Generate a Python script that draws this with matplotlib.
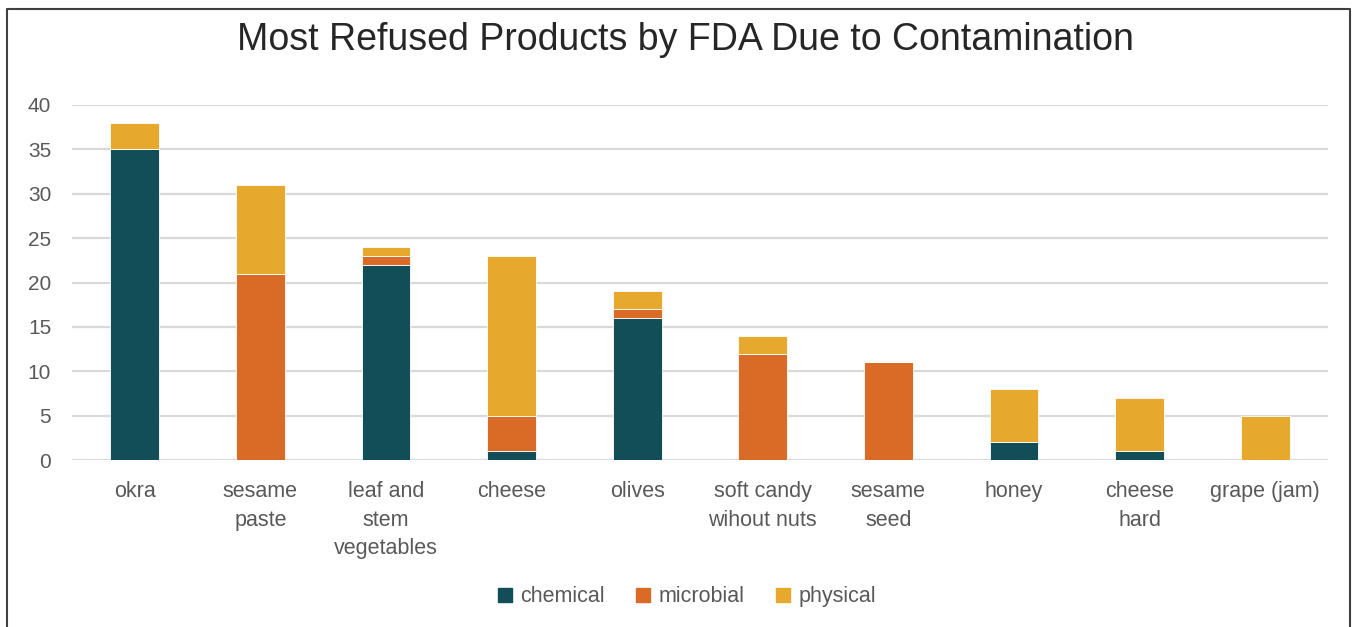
import matplotlib.pyplot as plt
import numpy as np
from matplotlib.lines import Line2D

plt.rcParams['font.family'] = ['Liberation Sans', 'DejaVu Sans']

# data
products = ["okra", "sesame\npaste", "leaf and\nstem\nvegetables", "cheese", "olives",
            "soft candy\nwihout nuts", "sesame\nseed", "honey", "cheese\nhard", "grape (jam)"]
chemical = [35, 0, 22, 1, 16, 0, 0, 2, 1, 0]
microbial = [0, 21, 1, 4, 1, 12, 11, 0, 0, 0]
physical = [3, 10, 1, 18, 2, 2, 0, 6, 6, 5]

colors = {"chemical": "#114E57", "microbial": "#DA6B27", "physical": "#E6A82D"}
text_col = "#595959"

fig = plt.figure(figsize=(13.58, 6.27), dpi=100)
ax = fig.add_axes([72 / 1358, 1 - 460 / 627, 1256 / 1358, 355 / 627])

x = np.arange(len(products))
w = 0.39
chem = np.array(chemical)
micro = np.array(microbial)
phys = np.array(physical)
ax.bar(x, chem, w, color=colors["chemical"], edgecolor="white", linewidth=0.6, zorder=3)
ax.bar(x, micro, w, bottom=chem, color=colors["microbial"], edgecolor="white", linewidth=0.6, zorder=3)
ax.bar(x, phys, w, bottom=chem + micro, color=colors["physical"], edgecolor="white", linewidth=0.6, zorder=3)

ax.set_xlim(-0.5, len(products) - 0.5)
ax.set_ylim(0, 40)
ax.set_yticks(range(0, 41, 5))
ax.set_xticks(x)
ax.set_xticklabels(products, linespacing=1.48)
ax.tick_params(axis="both", length=0, colors=text_col)
ax.tick_params(axis="x", pad=15, labelsize=15.5)
ax.tick_params(axis="y", pad=15, labelsize=15)
ax.grid(axis="y", color="#D9D9D9", linewidth=1.6, zorder=0)
for s in ax.spines.values():
    s.set_visible(False)

fig.text(0.505, 0.937, "Most Refused Products by FDA Due to Contamination",
         ha="center", va="center", fontsize=27, color="#262626")

handles = [Line2D([], [], marker="s", linestyle="none", markersize=10,
                  color=colors[k]) for k in ["chemical", "microbial", "physical"]]
fig.legend(handles, ["chemical", "microbial", "physical"], loc="center",
           bbox_to_anchor=(0.506, 0.048), ncol=3, frameon=False, fontsize=15.5,
           labelcolor=text_col, handlelength=0.6, handletextpad=0.4, columnspacing=1.5)

# outer frame of the chart box
fx = [7 / 1358, 7 / 1358, 1350 / 1358, 1350 / 1358]
fy = [0, 1 - 9 / 627, 1 - 9 / 627, 0]
fig.add_artist(Line2D(fx, fy, transform=fig.transFigure, color="#404040", linewidth=1.5))

fig.savefig("out.png", dpi=100)
